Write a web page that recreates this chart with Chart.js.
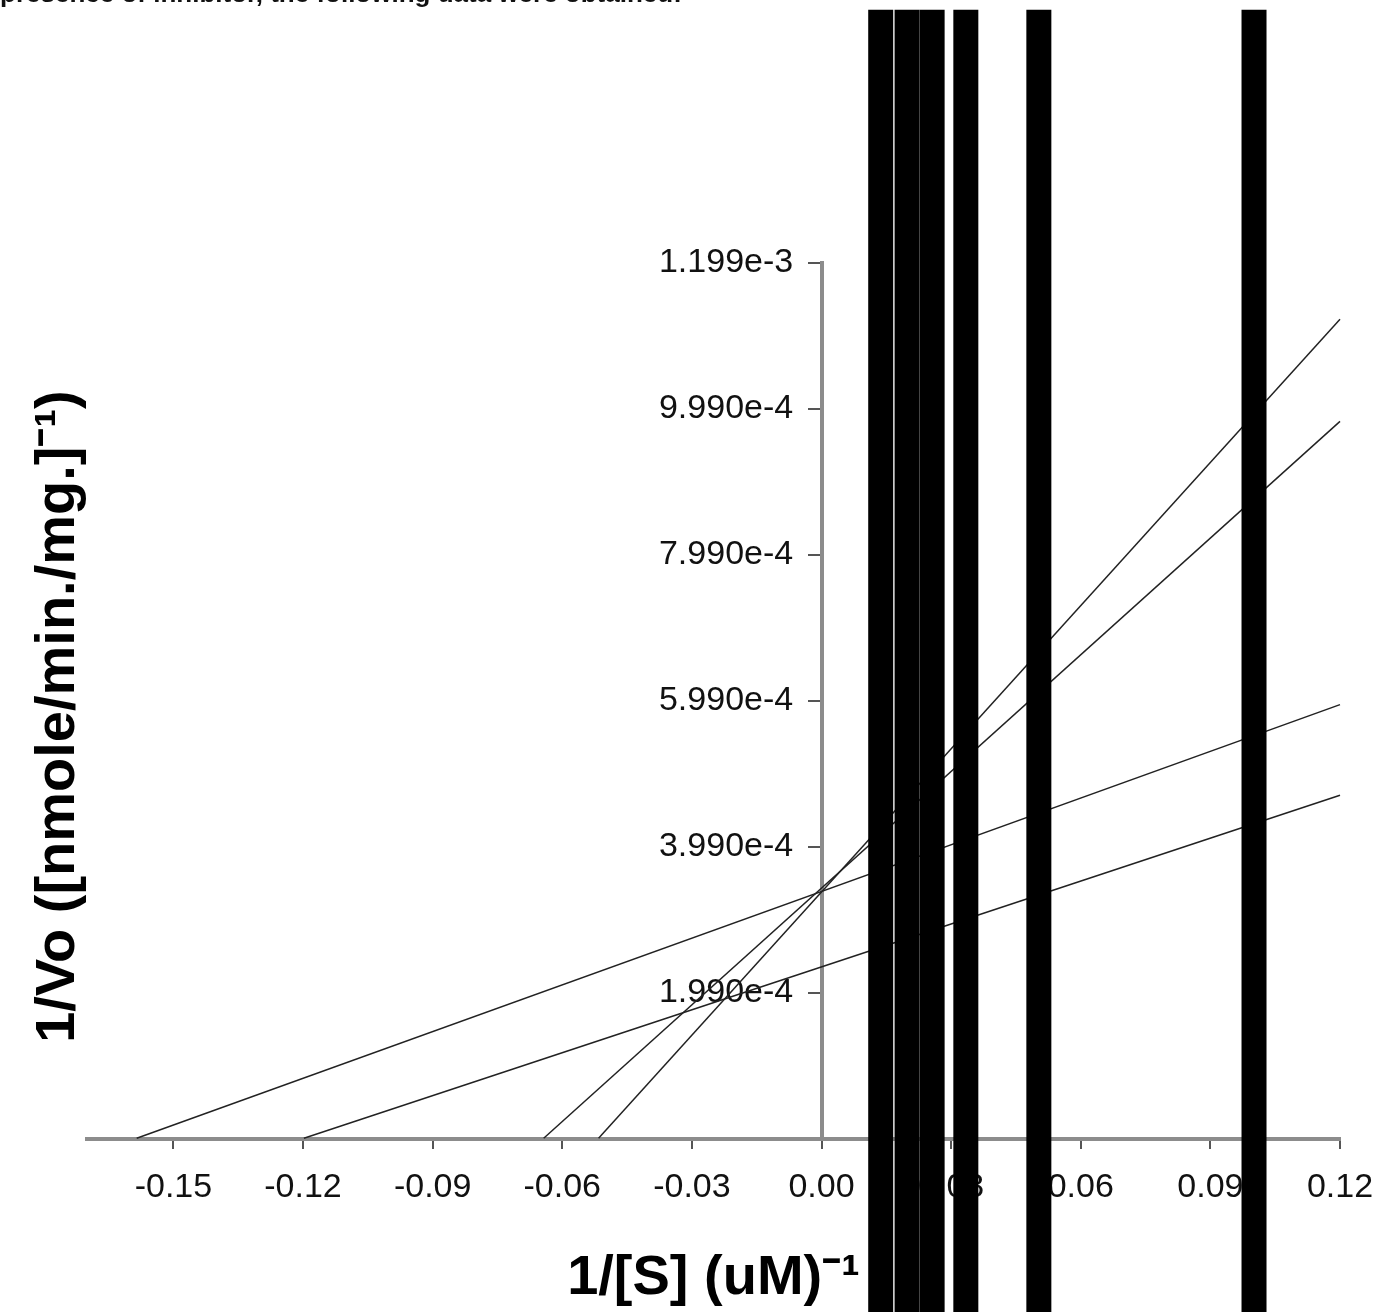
<!DOCTYPE html>
<html>
<head>
<meta charset="utf-8">
<script src="https://cdn.jsdelivr.net/npm/chart.js@4.4.0/dist/chart.umd.min.js"></script>
<style>
  body { margin: 0; background: #fff; }
  #wrap { position: relative; width: 1376px; height: 1312px; overflow: hidden; }
  #note { position: absolute; left: 0; top: -22px; font: bold 26px "Liberation Sans", Arial, sans-serif; line-height: 30px; color: #111; white-space: nowrap; }
  canvas { position: absolute; left: 0; top: 0; }
</style>
</head>
<body>
<div id="wrap">
  <canvas id="chart" width="1376" height="1312"></canvas>
  <div id="note">presence of inhibitor, the following data were obtained:</div>
</div>
<script>
// axis ticks
const xTicks = [-0.15, -0.12, -0.09, -0.06, -0.03, 0.00, 0.03, 0.06, 0.09, 0.12]
const yTicks = [1.99e-4, 3.99e-4, 5.99e-4, 7.99e-4, 9.99e-4, 1.199e-3]

// regression lines: from x intercept (y = 0) up to 1/[S] = 0.12
const lineXStart = [-0.0516, -0.0643, -0.1585, -0.1198]
const lineXEnd = [0.12, 0.12, 0.12, 0.12]
const lineYEnd = [1.122e-3, 9.82e-4, 5.94e-4, 4.70e-4]

// the big black vertical bars (1/[S] of each measured point)
const barX = [0.0137, 0.0198, 0.0256, 0.0334, 0.0503, 0.1001]
const barLow = [-3e-4, -3e-4, -3e-4, -3e-4, -3e-4, -3e-4]
const barHigh = [1.546e-3, 1.546e-3, 1.546e-3, 1.546e-3, 1.546e-3, 1.546e-3]

Chart.defaults.font.family = '"Liberation Sans", Arial, sans-serif'
Chart.defaults.color = '#111'

const datasets = []
barX.forEach((x, i) => {
  datasets.push({
    type: 'line',
    data: [{x: x, y: barLow[i]}, {x: x, y: barHigh[i]}],
    borderColor: '#000',
    borderWidth: 25,
    borderCapStyle: 'butt',
    pointRadius: 0,
    clip: false,
    order: 0
  })
})
lineXStart.forEach((x, i) => {
  datasets.push({
    type: 'line',
    data: [{x: x, y: 0}, {x: lineXEnd[i], y: lineYEnd[i]}],
    borderColor: '#222',
    borderWidth: 1.5,
    pointRadius: 0,
    clip: false,
    order: 1
  })
})

const myChart = new Chart(document.getElementById('chart'), {
  type: 'scatter',
  data: { datasets: datasets },
  options: {
    responsive: false,
    animation: false,
    layout: { padding: { top: 263, right: 36, bottom: 0, left: 0 } },
    plugins: {
      legend: { display: false },
      tooltip: { enabled: false }
    },
    scales: {
      x: {
        type: 'linear',
        position: 'bottom',
        min: -0.17,
        max: 0.12,
        afterBuildTicks: (scale) => { scale.ticks = xTicks.map(v => ({ value: v })) },
        // tick padding gets added to the right overhang, keep the plot wide
        afterFit: (scale) => { scale.paddingRight = 0 },
        ticks: {
          font: { size: 34 },
          padding: 18,
          maxRotation: 0,
          callback: (v) => Number(v).toFixed(2)
        },
        grid: { drawOnChartArea: false, drawTicks: true, tickLength: 10, color: '#555', lineWidth: 2 },
        border: { display: true, color: '#8c8c8c', width: 4 },
        title: {
          display: true,
          text: '1/[S] (uM)⁻¹',
          font: { size: 56, weight: 'bold' },
          color: '#000',
          padding: { top: 19, bottom: 0 }
        }
      },
      y: {
        type: 'linear',
        position: { x: 0 },
        min: -0.000001,
        max: 0.001199,
        afterBuildTicks: (scale) => { scale.ticks = yTicks.map(v => ({ value: v })) },
        ticks: {
          font: { size: 34 },
          // labels sit right on the axis when it is placed at x = 0, so pad with spaces
          callback: (v) => Number(v).toExponential(3) + '   '
        },
        grid: { drawOnChartArea: false, drawTicks: true, tickLength: 12, color: '#555', lineWidth: 2 },
        border: { display: true, color: '#8c8c8c', width: 4 }
      },
      yt: {
        type: 'linear',
        position: 'left',
        display: true,
        ticks: { display: false },
        grid: { display: false, drawTicks: false },
        border: { display: false },
        title: {
          display: true,
          text: '1/Vo ([nmole/min./mg.]⁻¹)  ',
          font: { size: 56, weight: 'bold', lineHeight: 1 },
          color: '#000',
          padding: { top: 31, bottom: 0 }
        }
      }
    }
  }
})
</script>
</body>
</html>
